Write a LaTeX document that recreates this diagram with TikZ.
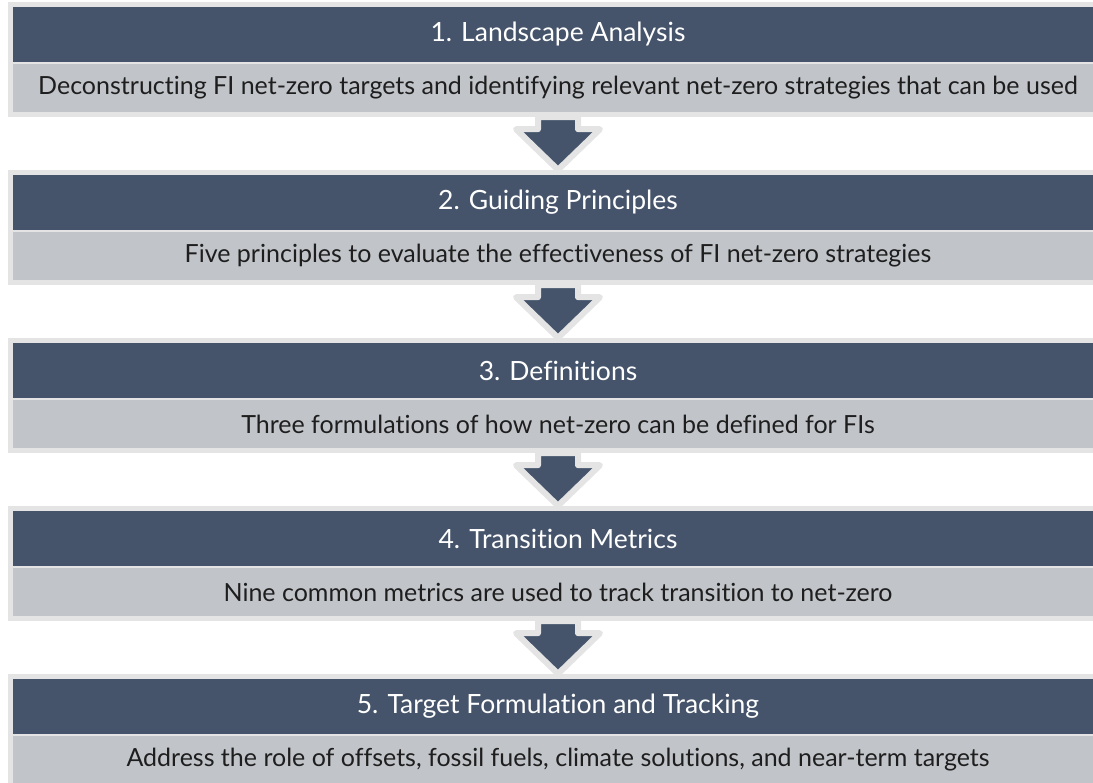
\documentclass[tikz,border=0pt]{standalone}
\usepackage{fontspec}
\setmainfont{Lato}[Ligatures=NoCommon]
\definecolor{slate}{HTML}{45546B}
\definecolor{bargray}{HTML}{C1C4C9}
\definecolor{framegray}{HTML}{E4E4E5}
\definecolor{inktext}{HTML}{1E1E1E}
\begin{document}
\begin{tikzpicture}[x=1pt,y=1pt,
   frame/.style={fill=framegray, minimum width=1100pt, minimum height=115pt, inner sep=0pt},
   head/.style={fill=slate, text=white, minimum width=1090pt, minimum height=55pt, inner sep=0pt,
                font=\fontsize{26.5}{30}\selectfont},
   desc/.style={fill=bargray, text=inktext, minimum width=1090pt, minimum height=48pt, inner sep=0pt,
                font=\fontsize{25}{30}\selectfont},
   flow/.style={fill=slate, draw=framegray, line width=6pt, line join=round}]
   \useasboundingbox (0,0) rectangle (1093,-783);
   % blocks
   \node[frame] (f1) at (558,-59.5)  {};
   \node[head]  (h1) at (558,-34.5)  {1. Landscape Analysis};
   \node[desc]  (d1) at (558,-88)    {Deconstructing FI net-zero targets and identifying relevant net-zero strategies that can be used};
   \node[frame] (f2) at (558,-227.5) {};
   \node[head]  (h2) at (558,-202.5) {2. Guiding Principles};
   \node[desc]  (d2) at (558,-256)   {Five principles to evaluate the effectiveness of FI net-zero strategies};
   \node[frame] (f3) at (558,-395.5) {};
   \node[head]  (h3) at (558,-370.5) {3. Definitions};
   \node[desc]  (d3) at (558,-424)   {Three formulations of how net-zero can be defined for FIs};
   \node[frame] (f4) at (558,-563.5) {};
   \node[head]  (h4) at (558,-538.5) {4. Transition Metrics};
   \node[desc]  (d4) at (558,-592)   {Nine common metrics are used to track transition to net-zero};
   \node[frame] (f5) at (558,-731.5) {};
   \node[head]  (h5) at (558,-706.5) {5. Target Formulation and Tracking};
   \node[desc]  (d5) at (558,-760)   {Address the role of offsets, fossil fuels, climate solutions, and near-term targets};
   % arrows
   \foreach \a/\b in {f1/f2,f2/f3,f3/f4,f4/f5}
     \draw[flow] ([xshift=-20pt]\a.south) -- ([xshift=-20pt,yshift=-12pt]\a.south)
        -- ([xshift=-42pt,yshift=-12pt]\a.south) -- (\b.north)
        -- ([xshift=42pt,yshift=-12pt]\a.south) -- ([xshift=20pt,yshift=-12pt]\a.south)
        -- ([xshift=20pt]\a.south) -- cycle;
\end{tikzpicture}
\end{document}
